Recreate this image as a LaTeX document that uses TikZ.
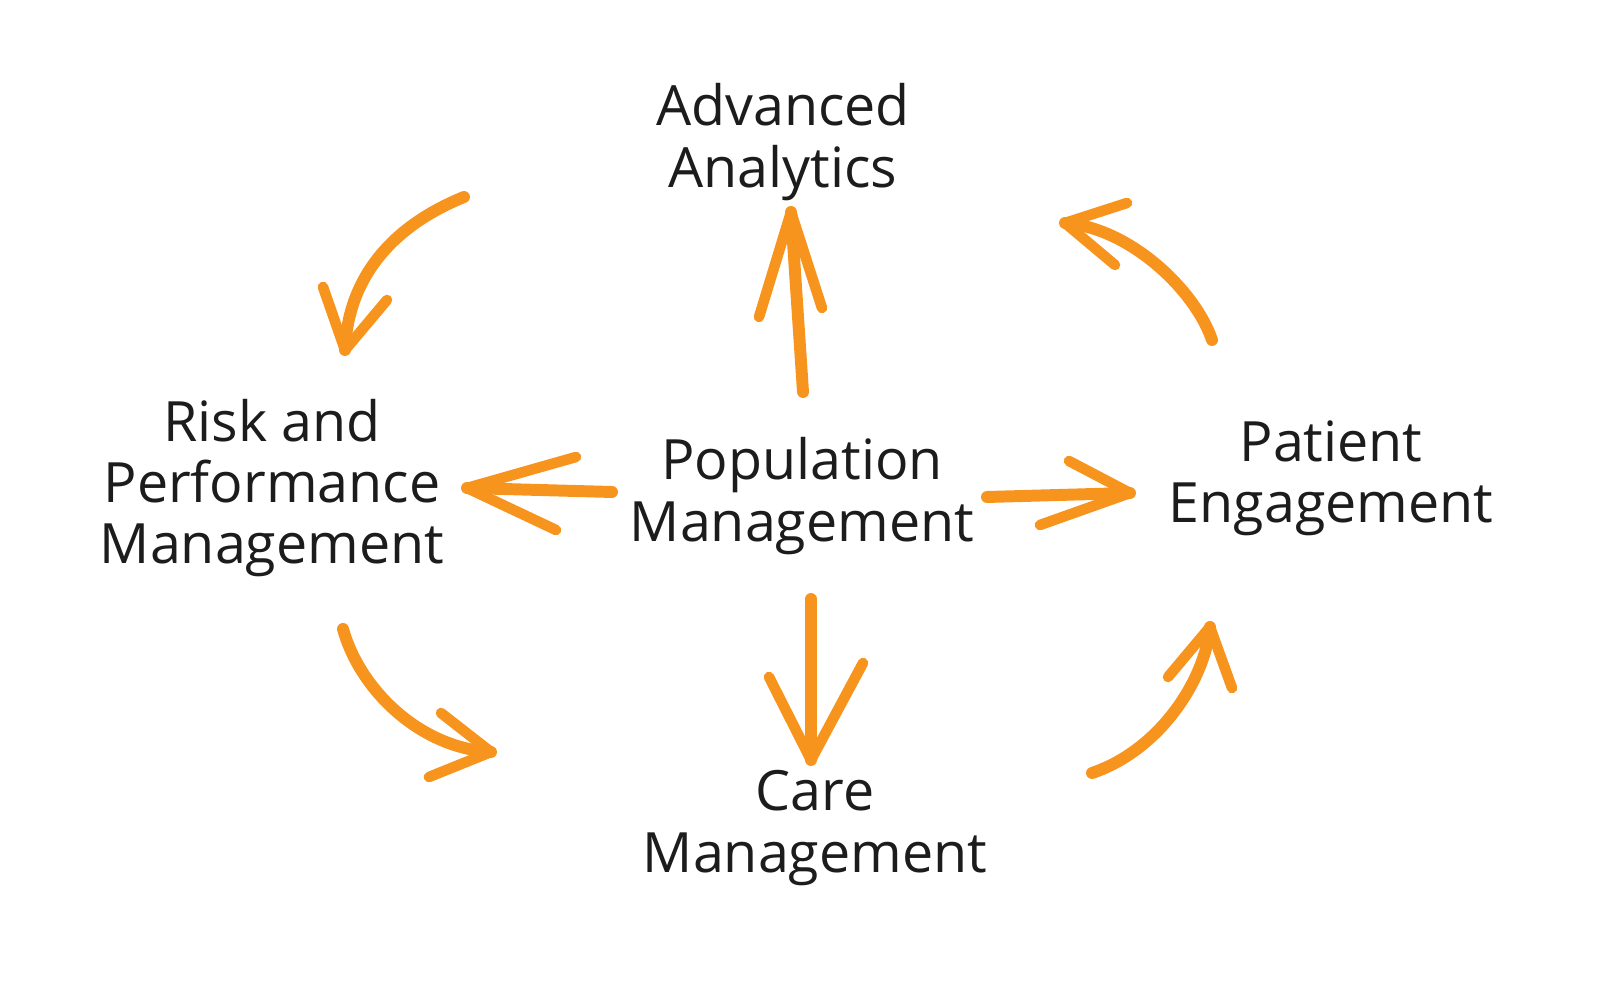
\documentclass[tikz,border=0pt]{standalone}
\usepackage{fontspec}
\setmainfont{Open Sans}
\definecolor{brush}{RGB}{247,148,29}
\definecolor{ink}{RGB}{28,28,28}
\begin{document}
\begin{tikzpicture}[x=0.01cm,y=-0.01cm,
  label/.style={align=center,text=ink,font=\fontsize{15.8}{17.4}\selectfont,inner sep=0pt},
  shaft/.style={draw=brush,line width=3.4pt,line cap=round},
  barb/.style={draw=brush,line width=3pt,line cap=round}]
\useasboundingbox (0,0) rectangle (1600,995);
% text nodes
\node[label] (aa) at (783,142) {Advanced\\Analytics};
\node[label] (rp) at (272,488) {Risk and\\Performance\\Management};
\node[label] (pm) at (802,496) {Population\\Management};
\node[label] (pe) at (1331,478) {Patient\\Engagement};
\node[label] (cm) at (815,828) {Care\\Management};
% arrow anchors
\coordinate (upS) at (803,392); \coordinate (upT) at (791,212);
\coordinate (upL) at (759,317); \coordinate (upR) at (822,308);
\coordinate (lfS) at (612,492); \coordinate (lfT) at (467,488);
\coordinate (lfU) at (576,457); \coordinate (lfD) at (556,530);
\coordinate (rtS) at (987,497); \coordinate (rtT) at (1130,493);
\coordinate (rtU) at (1069,461); \coordinate (rtD) at (1040,525);
\coordinate (dnS) at (811,599); \coordinate (dnT) at (811,760);
\coordinate (dnL) at (769,677); \coordinate (dnR) at (863,663);
\coordinate (tlS) at (464,197); \coordinate (tlT) at (345,350);
\coordinate (tlL) at (323,287); \coordinate (tlR) at (387,300);
\coordinate (trS) at (1212,340); \coordinate (trT) at (1065,223);
\coordinate (trU) at (1127,203); \coordinate (trD) at (1115,265);
\coordinate (blS) at (343,629); \coordinate (blT) at (491,752);
\coordinate (blU) at (441,713); \coordinate (blD) at (429,777);
\coordinate (brS) at (1092,773); \coordinate (brT) at (1210,627);
\coordinate (brL) at (1168,677); \coordinate (brR) at (1232,688);
% straight arrows
\draw[shaft] (upS) -- (upT);
\draw[barb] (upT) -- (upL); \draw[barb] (upT) -- (upR);
\draw[shaft] (lfS) -- (lfT);
\draw[barb] (lfT) -- (lfU); \draw[barb] (lfT) -- (lfD);
\draw[shaft] (rtS) -- (rtT);
\draw[barb] (rtT) -- (rtU); \draw[barb] (rtT) -- (rtD);
\draw[shaft] (dnS) -- (dnT);
\draw[barb] (dnT) -- (dnL); \draw[barb] (dnT) -- (dnR);
% curved arrows
\draw[shaft] (tlS) .. controls (395,225) and (348,275) .. (tlT);
\draw[barb] (tlT) -- (tlL); \draw[barb] (tlT) -- (tlR);
\draw[shaft] (trS) .. controls (1195,290) and (1130,228) .. (trT);
\draw[barb] (trT) -- (trU); \draw[barb] (trT) -- (trD);
\draw[shaft] (blS) .. controls (360,690) and (420,748) .. (blT);
\draw[barb] (blT) -- (blU); \draw[barb] (blT) -- (blD);
\draw[shaft] (brS) .. controls (1160,750) and (1205,680) .. (brT);
\draw[barb] (brT) -- (brL); \draw[barb] (brT) -- (brR);
\end{tikzpicture}
\end{document}
